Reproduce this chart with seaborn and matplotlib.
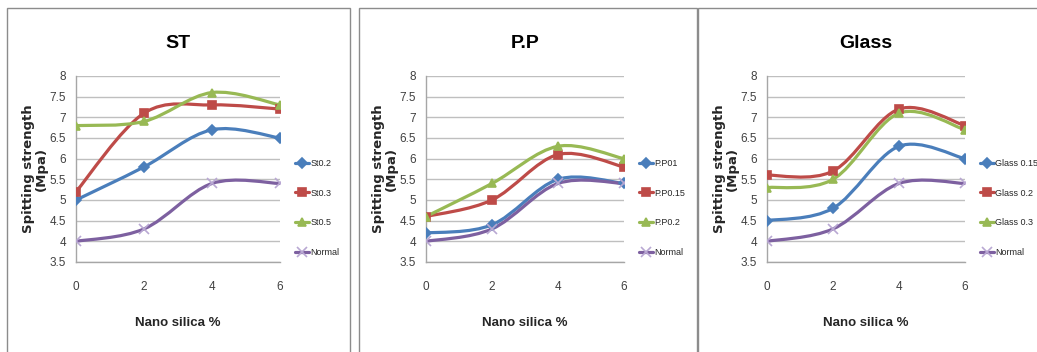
import numpy as np
import pandas as pd
import matplotlib
matplotlib.use("Agg")
import matplotlib.pyplot as plt
import seaborn as sns
from matplotlib.path import Path
from matplotlib.patches import PathPatch, Rectangle
from matplotlib.lines import Line2D

# ---- data ----
nano = [0, 2, 4, 6]
normal = [4.0, 4.3, 5.4, 5.4]

st_labels = ["St0.2", "St0.3", "St0.5", "Normal"]
st_02 = [5.0, 5.8, 6.7, 6.5]
st_03 = [5.2, 7.1, 7.3, 7.2]
st_05 = [6.8, 6.9, 7.6, 7.3]

pp_labels = ["P.P01", "P.P0.15", "P.P0.2", "Normal"]
pp_01 = [4.2, 4.4, 5.5, 5.4]
pp_015 = [4.6, 5.0, 6.1, 5.8]
pp_02 = [4.6, 5.4, 6.3, 6.0]

gl_labels = ["Glass 0.15", "Glass 0.2", "Glass 0.3", "Normal"]
gl_015 = [4.5, 4.8, 6.3, 6.0]
gl_02 = [5.6, 5.7, 7.2, 6.8]
gl_03 = [5.3, 5.5, 7.1, 6.7]

COLORS = ["#4A7EBB", "#BE4B48", "#98B954", "#7D60A0"]
MARKERS = ["D", "s", "^", "x"]
MSIZES = [5.0, 6.0, 6.0, 7.0]
NORMAL_MK = "#B9A8D3"

sns.set_style("white")
plt.rcParams["font.family"] = ["Liberation Sans", "DejaVu Sans"]

W, H = 1037, 352
fig = plt.figure(figsize=(W / 100, H / 100), dpi=100)

# panel frames (pixel coords, top-left origin)
frames = [(7, 8, 343, 360), (359, 8, 338, 360), (698, 8, 360, 360)]
for fx, fy, fw, fh in frames:
    fig.patches.append(Rectangle((fx / W, 1 - (fy + fh) / H), fw / W, fh / H,
                                 transform=fig.transFigure, fill=False,
                                 edgecolor="#8C8C8C", lw=1.0))


def smooth_path(x, y):
    pts = np.column_stack([x, y])
    n = len(pts)
    verts = [pts[0]]
    codes = [Path.MOVETO]
    for i in range(n - 1):
        p0 = pts[max(i - 1, 0)]
        p1 = pts[i]
        p2 = pts[i + 1]
        p3 = pts[min(i + 2, n - 1)]
        verts += [p1 + (p2 - p0) / 6, p2 - (p3 - p1) / 6, p2]
        codes += [Path.CURVE4] * 3
    return Path(verts, codes)


panels = [
    ("ST", st_labels, [st_02, st_03, st_05, normal], (76, 76, 204, 186)),
    ("P.P", pp_labels, [pp_01, pp_015, pp_02, normal], (426, 76, 198, 186)),
    ("Glass", gl_labels, [gl_015, gl_02, gl_03, normal], (767, 76, 198, 186)),
]

for title, labels, series, (px, py, pw, ph) in panels:
    ax = fig.add_axes([px / W, 1 - (py + ph) / H, pw / W, ph / H])
    df = pd.DataFrame({
        "nano": nano * len(labels),
        "value": np.concatenate(series),
        "series": np.repeat(labels, len(nano)),
    })
    sns.lineplot(data=df, x="nano", y="value", hue="series", style="series",
                 hue_order=labels, style_order=labels, palette=COLORS,
                 markers=["D", "s", "^", "o"], dashes=False, legend=False, ax=ax,
                 lw=2.3, markersize=6, markeredgewidth=1.2, zorder=3)
    # Excel style smoothed lines from the drawn line data
    for i, ln in enumerate(ax.lines):
        c = COLORS[i]
        patch = PathPatch(smooth_path(ln.get_xdata(), ln.get_ydata()),
                          fill=False, edgecolor=c, lw=2.3, zorder=2,
                          capstyle="round", joinstyle="round")
        ax.add_patch(patch)
        ln.set_linestyle("None")
        ln.set_marker(MARKERS[i])
        ln.set_markersize(MSIZES[i])
        ln.set_markerfacecolor(c)
        ln.set_markeredgecolor(NORMAL_MK if MARKERS[i] == "x" else c)

    ax.set_xlim(0, 6)
    ax.set_ylim(3.5, 8)
    ax.set_xticks([0, 2, 4, 6])
    ax.set_yticks(np.arange(3.5, 8.01, 0.5))
    ax.set_yticklabels([f"{v:g}" for v in np.arange(3.5, 8.01, 0.5)])
    ax.yaxis.grid(True, color="#BFBFBF", lw=1.0)
    ax.xaxis.grid(False)
    for s in ["top", "right"]:
        ax.spines[s].set_visible(False)
    for s in ["left", "bottom"]:
        ax.spines[s].set_color("#A6A6A6")
        ax.spines[s].set_linewidth(1.0)
    ax.tick_params(axis="x", length=0, pad=14, labelsize=8.5, colors="#404040")
    ax.tick_params(axis="y", length=0, pad=7, labelsize=8.5, colors="#404040")

    ax.set_xlabel("")
    ax.set_ylabel("")
    ax.text(0.5, 1.177, title, transform=ax.transAxes, ha="center",
            va="center", fontsize=14, fontweight="bold", color="#000000")
    ax.text(0.5, -(323 - 262) / ph, "Nano silica %", transform=ax.transAxes,
            ha="center", va="center", fontsize=9.5, fontweight="bold")
    ax.text(-(41 / pw), 0.5, "Spitting strength\n(Mpa)", transform=ax.transAxes,
            ha="center", va="center", rotation=90, fontsize=9.5,
            fontweight="bold", family="DejaVu Sans", linespacing=0.95)

    handles = []
    for i, lab in enumerate(labels):
        mec = NORMAL_MK if MARKERS[i] == "x" else COLORS[i]
        handles.append(Line2D([], [], color=COLORS[i], lw=2.3, marker=MARKERS[i],
                              markersize=MSIZES[i], markerfacecolor=COLORS[i],
                              markeredgecolor=mec, markeredgewidth=1.2))
    ax.legend(handles, labels, loc="center left",
              bbox_to_anchor=(1 + 15 / pw, (262 - 208) / ph),
              frameon=False, fontsize=6.5, handlelength=1.5, handletextpad=0.2,
              labelspacing=2.3, borderaxespad=0, borderpad=0)

fig.savefig("out.png", dpi=100)
